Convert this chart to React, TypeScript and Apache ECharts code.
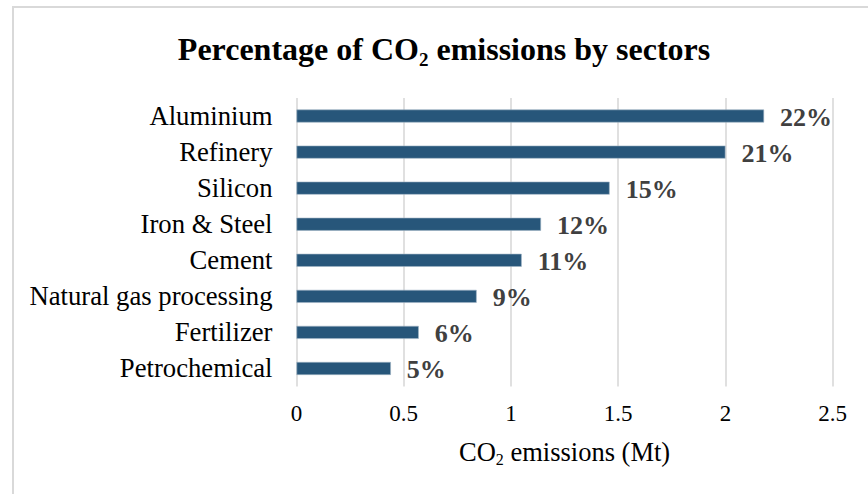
import React, { useEffect, useRef } from "react";
import * as echarts from "echarts";

// Sector names, top to bottom
const sectors = [
  "Aluminium",
  "Refinery",
  "Silicon",
  "Iron & Steel",
  "Cement",
  "Natural gas processing",
  "Fertilizer",
  "Petrochemical",
];

// CO2 emissions per sector (Mt)
const emissions = [2.18, 2.0, 1.46, 1.14, 1.05, 0.84, 0.57, 0.44];

// Share of total emissions shown next to each bar
const shares = ["22%", "21%", "15%", "12%", "11%", "9%", "6%", "5%"];

// Emission axis ticks
const axisMin = 0;
const axisMax = 2.5;
const axisStep = 0.5;

const SERIF = '"Liberation Serif", "Times New Roman", serif';

export default function App() {
  const ref = useRef<HTMLDivElement>(null);

  useEffect(() => {
    if (!ref.current) return;
    const chart = echarts.init(ref.current, undefined, { renderer: "svg" });

    chart.setOption({
      animation: false,
      backgroundColor: "#ffffff",
      graphic: [
        {
          type: "rect",
          shape: { x: 13, y: 7, width: 900, height: 600 },
          style: { fill: "none", stroke: "#d9d9d9", lineWidth: 2 },
          silent: true,
          z: -10,
        },
      ],
      title: {
        text: "{a|Percentage of CO}{s|2}{a| emissions by sectors}",
        left: 444,
        textAlign: "center",
        top: 29,
        padding: 0,
        textStyle: {
          rich: {
            a: {
              fontFamily: SERIF,
              fontSize: 32,
              fontWeight: "bold",
              color: "#000000",
              lineHeight: 40,
            },
            s: {
              fontFamily: SERIF,
              fontSize: 19,
              fontWeight: "bold",
              color: "#000000",
              lineHeight: 16,
              verticalAlign: "bottom",
            },
          },
        },
      },
      grid: {
        left: 296.5,
        right: 35.3,
        top: 98,
        bottom: 107.5,
        containLabel: false,
      },
      xAxis: {
        type: "value",
        min: axisMin,
        max: axisMax,
        interval: axisStep,
        axisLine: { show: false },
        axisTick: { show: false },
        splitLine: { show: true, lineStyle: { color: "#d9d9d9", width: 1.6 } },
        axisLabel: {
          margin: 15,
          fontFamily: SERIF,
          fontSize: 23,
          color: "#000000",
        },
        name: "{a|CO}{s|2}{a| emissions (Mt)}",
        nameLocation: "middle",
        nameGap: 49,
        nameTextStyle: {
          rich: {
            a: {
              fontFamily: SERIF,
              fontSize: 26.5,
              color: "#000000",
              lineHeight: 32,
            },
            s: {
              fontFamily: SERIF,
              fontSize: 16,
              color: "#000000",
              lineHeight: 13,
              verticalAlign: "bottom",
            },
          },
        },
      },
      yAxis: {
        type: "category",
        data: sectors,
        inverse: true,
        axisLine: { show: false },
        axisTick: { show: false },
        splitLine: { show: false },
        axisLabel: {
          margin: 24,
          fontFamily: SERIF,
          fontSize: 26.7,
          color: "#000000",
        },
      },
      series: [
        {
          type: "bar",
          data: emissions,
          barWidth: 13,
          itemStyle: { color: "#27567a", borderColor: "#9fb3c4", borderWidth: 0.6 },
          label: {
            show: true,
            position: "right",
            distance: 16,
            offset: [0, 1.5],
            formatter: (p: any) => shares[p.dataIndex],
            fontFamily: SERIF,
            fontSize: 26,
            fontWeight: "bold",
            color: "#404040",
          },
        },
      ],
    });

    return () => chart.dispose();
  }, []);

  return (
    <div
      ref={ref}
      style={{ position: "fixed", left: 0, top: 0, width: 868, height: 494 }}
    />
  );
}
